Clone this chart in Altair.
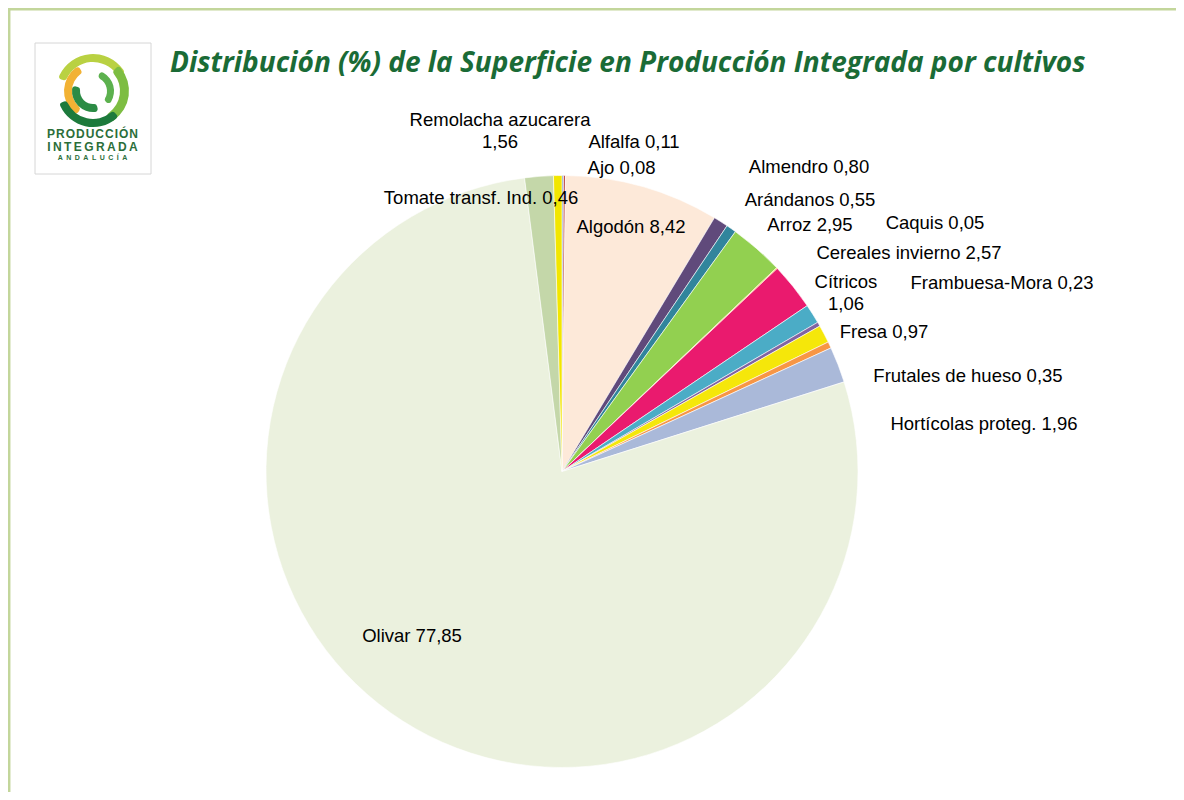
import altair as alt
import pandas as pd
import math

# ---- data ----
categories = ["Ajo", "Alfalfa", "Algodón", "Almendro", "Arándanos", "Arroz", "Caquis",
              "Cereales invierno", "Cítricos", "Frambuesa-Mora", "Fresa",
              "Frutales de hueso", "Hortícolas proteg.", "Olivar",
              "Remolacha azucarera", "Tomate transf. Ind."]
values = [0.08, 0.11, 8.42, 0.80, 0.55, 2.95, 0.05, 2.57, 1.06, 0.23, 0.97,
          0.35, 1.96, 77.85, 1.56, 0.46]
colors = ["#4f81bd", "#c0504d", "#fde9d9", "#604a7b", "#31859c", "#92d050", "#ffc000",
          "#ea1a6e", "#4bacc6", "#8064a2", "#f5e70a", "#f79646", "#aab9d9", "#ebf1de",
          "#c4d7a9", "#f2e600"]

# label text layout (line breaks as in the reference)
two_line = {"Cítricos": "\n", "Remolacha azucarera": "\n"}

def fmt(v):
    return f"{v:.2f}".replace(".", ",")

labels = [c + two_line.get(c, " ") + fmt(v) for c, v in zip(categories, values)]

df = pd.DataFrame({"cat": categories, "value": values, "idx": list(range(len(categories))),
                   "label": labels})

# ---- layout ----
W, H = 1168, 784
CX, CY, R = 554, 463.5, 296
FONT = "Liberation Sans"

# label offsets (dx, dy) from the slice's outer edge at its mid-angle
label_offsets = {
    "Ajo": (58.8, -7.5), "Alfalfa": (69.5, -33.5), "Algodón": (-11.8, 40.3),
    "Almendro": (88.2, -54.7), "Arándanos": (78.7, -28.7), "Arroz": (53.1, -23.7),
    "Caquis": (158, -45), "Cereales invierno": (116, -33), "Cítricos": (33.4, -31.5),
    "Frambuesa-Mora": (183.3, -40.7), "Fresa": (59.9, -2), "Frutales de hueso": (138.4, 31),
    "Hortícolas proteg.": (145.9, 59.3), "Olivar": (9.3, -85),
    "Remolacha azucarera": (-38.9, -56.4), "Tomate transf. Ind.": (-76.7, 22.5),
}

color_scale = alt.Scale(domain=categories, range=colors)
total = sum(values)
theta_scale = alt.Scale(domain=[0, total])

pie = alt.Chart(df).mark_arc(outerRadius=R, stroke="white", strokeWidth=0.6).encode(
    theta=alt.Theta("value:Q", stack=True, scale=theta_scale),
    color=alt.Color("cat:N", scale=color_scale, legend=None),
    order=alt.Order("idx:Q"),
    x=alt.value(CX), y=alt.value(CY),
)

base_lab = alt.Chart(df).transform_window(
    cum="sum(value)", sort=[alt.SortField("idx")], frame=[None, 0]
).transform_calculate(mid="datum.cum - datum.value / 2")

label_layers = []
for c in categories:
    dx, dy = label_offsets[c]
    label_layers.append(
        base_lab.transform_filter(alt.datum.cat == c).mark_text(
            radius=R, dx=dx, dy=dy, align="center", baseline="middle",
            font=FONT, fontSize=18.5, color="#000000", lineBreak="\n", lineHeight=22,
        ).encode(
            theta=alt.Theta("mid:Q", stack=None, scale=theta_scale),
            text="label:N",
            x=alt.value(CX), y=alt.value(CY),
        )
    )

one = alt.Data(values=[{"a": 0}])

# frame lines (top and left)
frame_top = alt.Chart(one).mark_rule(color="#c3d69b", strokeWidth=2.5).encode(
    x=alt.value(0), x2=alt.value(W), y=alt.value(1.3))
frame_left = alt.Chart(one).mark_rule(color="#c3d69b", strokeWidth=2.5).encode(
    x=alt.value(1.2), y=alt.value(0), y2=alt.value(H))

# title
title = alt.Chart(one).mark_text(
    text="Distribución (%) de la Superficie en Producción Integrada por cultivos",
    align="left", baseline="alphabetic", font="Open Sans", fontStyle="italic",
    fontWeight="bold", fontSize=28, color="#1a6b36",
).encode(x=alt.value(162), y=alt.value(63.5))

# logo
logo_box = alt.Chart(one).mark_rect(fill="white", stroke="#d6d6d6", strokeWidth=1).encode(
    x=alt.value(27), x2=alt.value(143), y=alt.value(35), y2=alt.value(166))

LX, LY = 85, 83
swirl_specs = [
    # start, end (degrees clockwise from north), inner, outer radius, colour
    (290, 420, 29, 37, "#b9d142"),
    (215, 330, 21, 29, "#f2b234"),
    (45, 150, 27, 36, "#7dbd42"),
    (135, 250, 28, 36, "#1d7a3c"),
    (165, 285, 13, 21, "#2b8b45"),
    (20, 130, 14, 21, "#5cb14e"),
]
logo_arcs = []
for a1, a2, r1, r2, col in swirl_specs:
    logo_arcs.append(
        alt.Chart(one).mark_arc(theta=math.radians(a1), theta2=math.radians(a2),
                                radius=r2, radius2=r1, color=col, cornerRadius=3)
        .encode(x=alt.value(LX), y=alt.value(LY))
    )

HS = "\u200a"
TS = "\u2009"
logo_text = [
    alt.Chart(one).mark_text(text=HS.join("PRODUCCIÓN"), font=FONT, fontWeight="bold",
                             fontSize=12, color="#2b6e3a", align="center", baseline="middle")
    .encode(x=alt.value(84.5), y=alt.value(126)),
    alt.Chart(one).mark_text(text=TS.join("INTEGRADA"), font=FONT, fontWeight="bold",
                             fontSize=12, color="#2b6e3a", align="center", baseline="middle")
    .encode(x=alt.value(84.5), y=alt.value(138.5)),
    alt.Chart(one).mark_text(text="\u2002".join("ANDALUCÍA"), font=FONT, fontWeight="bold",
                             fontSize=7, color="#2b6e3a", align="center", baseline="middle")
    .encode(x=alt.value(84.5), y=alt.value(150)),
]

chart = alt.layer(
    frame_top, frame_left, logo_box, *logo_arcs, *logo_text, title, pie, *label_layers
).properties(
    width=W, height=H, padding=0, autosize="none", background="white"
).configure_view(stroke=None)

chart.save("out.html", embed_options={"renderer": "svg", "actions": False})
